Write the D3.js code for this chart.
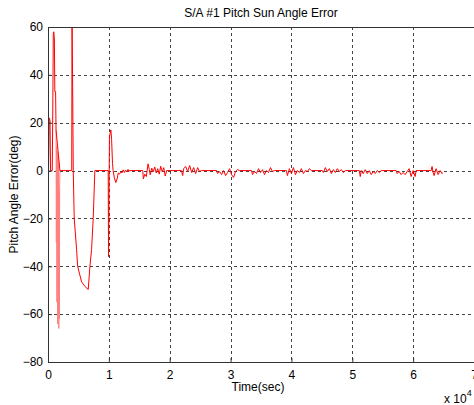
<!DOCTYPE html>
<html>
<head>
<meta charset="utf-8">
<script src="https://cdnjs.cloudflare.com/ajax/libs/d3/7.8.5/d3.min.js"></script>
<style>
  body { margin: 0; background: #fff; }
  svg { display: block; font-family: "Liberation Sans", Arial, sans-serif; }
</style>
</head>
<body>
<svg class="chart"></svg>
<script>
// time in seconds, pitch error in degrees
var timeSec = [
  0, 80, 200, 330, 420, 700, 800, 870, 950, 1050, 1120, 1250, 1320, 1960,
  3900, 3950, 4050, 4150, 4310, 4700, 4870, 5520, 6100, 6610, 6890, 7160, 7430, 7700,
  9890, 9950, 10100, 10330, 10450, 10600, 10700, 10900, 11150, 11350, 11550, 11750, 11950, 12150, 12350, 12550, 12750, 12950, 13150, 13300, 13440,
  15570, 15670, 15900, 16150, 16440, 16640, 16800, 17050, 17300, 17540, 17790, 18030, 18280, 18520, 18770, 19020, 19260, 19510,
  21920, 22130, 22300, 22620, 22950, 23280, 23610, 23930, 24260, 24590, 24920, 25200,
  27700, 27870, 28200, 28520, 28850, 29180, 29510, 29840, 30160, 30490, 30820, 31150, 31480,
  33440, 33610, 33930, 34260, 34590, 34920, 35250, 35570, 35900, 36230, 36560, 36890, 37210,
  39180, 39340, 39670, 40000, 40330, 40660, 40980, 41310, 41640, 41970, 42300, 42620, 42950, 43280,
  45080, 45250, 45570, 45900, 46230, 46560, 46890, 47210, 47540, 47870, 48200, 48520, 48850,
  51150, 51310, 51480, 51800, 52130, 52460, 52790, 53110, 53440, 53770, 54100, 54430, 54750,
  57210, 57380, 57700, 58030, 58360, 58690, 59020, 59340, 59670, 60000, 60330, 60490,
  62950, 63110, 63280, 63440, 63770, 64100, 64430, 64750, 64800
];
var pitchErr = [
  -32, 0, 22, 21, 0, 0, 30, 57, 58, 55, 33, 33, 17, 0,
  0, 64, 35, 0, -20, -33, -40, -46.5, -48.5, -49.7, -40, -33, -20, 0,
  0, -36, 14, 17, 13, 3, 0, -3, -5, -3.5, -1, -1.5, -0.5, -1, 0.3, -0.8, 0.2, -0.5, 0.5, -0.3, 0,
  0, -3.5, -1.5, -2.5, 2.8, 0.5, -1.8, 1, -0.5, 1.5, -1, 0.8, -1.5, 1.8, -0.5, 1.2, -2.3, 0,
  0, -2.1, 0.8, 1.7, -0.4, 2.1, -0.8, 1.25, -1.25, 1.25, -0.4, 0,
  0, -1.25, -0.4, -1.7, 0, -2.1, -0.8, 0.8, -1.7, -2.9, -0.4, 0.4, 0,
  0, -1.7, -0.4, -1.25, 0.8, -0.8, 0.4, -1.7, 0, -0.8, 1.25, -0.4, 0,
  0, -2.1, 0.8, -1.25, 1.25, -1.7, 0, -0.8, 0.8, -1.25, 0, -0.4, 0.8, 0,
  0, -0.8, 1.25, -0.4, 0.8, -1.25, 0.4, -0.8, 0.8, -0.4, 0.4, -0.8, 0,
  0, -2.5, 0, -1.25, 0.4, -1.25, 0, -1.7, -0.4, -1.25, 0, -0.8, 0,
  0, -1.25, -0.4, -1.7, -0.8, -1.7, -0.4, 0.8, -2.5, 0, -2.5, 0,
  0, 1.7, -0.8, -2.1, 0.8, -1.7, 0, -1.25, -0.8
];
// dense oscillation right after start (drawn lighter)
var burstTime = [1320, 1370, 1420, 1470, 1520, 1570, 1620, 1670, 1720, 1770, 1820, 1870, 1920, 1960];
var burstErr  = [17, -30, 10, -55, 8, -64, 0, -60, 6, -66, -8, -62, -5, 0];

var xTicks = [0, 10000, 20000, 30000, 40000, 50000, 60000, 70000];
var yTicks = [-80, -60, -40, -20, 0, 20, 40, 60];

var width = 474, height = 405;
var margin = {top: 27, right: 0, bottom: 43, left: 48};
var plotW = width - margin.left - margin.right;
var plotH = height - margin.top - margin.bottom;

var x = d3.scaleLinear().domain([0, 70000]).range([0, plotW]);
var y = d3.scaleLinear().domain([-80, 60]).range([plotH, 0]);

var svg = d3.select('.chart').attr("width", width).attr("height", height);
var chart = svg.append("g").attr("transform", "translate(" + margin.left + "," + margin.top + ")");

chart.append("clipPath").attr("id", "clip")
  .append("rect").attr("width", plotW).attr("height", plotH);

// grid
chart.append("g").selectAll("line").data(xTicks.slice(1, -1)).enter().append("line")
  .attr("x1", function(d) { return Math.round(x(d)) + 0.5; })
  .attr("x2", function(d) { return Math.round(x(d)) + 0.5; })
  .attr("y1", 0).attr("y2", plotH)
  .attr("stroke", "#444").attr("stroke-dasharray", "3,3");
chart.append("g").selectAll("line").data(yTicks.slice(1, -1)).enter().append("line")
  .attr("y1", function(d) { return Math.round(y(d)) + 0.5; })
  .attr("y2", function(d) { return Math.round(y(d)) + 0.5; })
  .attr("x1", 0).attr("x2", plotW)
  .attr("stroke", "#444").attr("stroke-dasharray", "3,3");

// data
var line = d3.line().x(function(d) { return x(d[0]); }).y(function(d) { return y(d[1]); });
var mainData = timeSec.map(function(t, i) { return [t, pitchErr[i]]; });
var burstData = burstTime.map(function(t, i) { return [t, burstErr[i]]; });

chart.append("path").datum(burstData)
  .attr("clip-path", "url(#clip)")
  .attr("fill", "none").attr("stroke", "#ff8080").attr("stroke-width", 1)
  .attr("d", line);
chart.append("path").datum(mainData)
  .attr("clip-path", "url(#clip)")
  .attr("fill", "none").attr("stroke", "#ff0000").attr("stroke-width", 1)
  .attr("d", line);

// axes
var xAxis = chart.append("g")
  .attr("transform", "translate(0," + plotH + ")")
  .call(d3.axisBottom(x).tickValues(xTicks).tickSizeInner(-4).tickSizeOuter(0).tickPadding(8)
    .tickFormat(function(d) { return d / 10000; }));
var yAxis = chart.append("g")
  .call(d3.axisLeft(y).tickValues(yTicks).tickSizeInner(-4).tickSizeOuter(0).tickPadding(5));

[xAxis, yAxis].forEach(function(a) {
  a.select(".domain").attr("stroke", "#333");
  a.selectAll(".tick line").attr("stroke", "#333");
  a.selectAll("text").attr("fill", "#000").style("font-size", "12px")
    .style("font-family", "'Liberation Sans', Arial, sans-serif");
});

// top border
chart.append("line").attr("x1", 0).attr("x2", plotW).attr("y1", 0.5).attr("y2", 0.5).attr("stroke", "#333");

// title and labels
svg.append("text")
  .attr("x", margin.left + plotW / 2).attr("y", 17)
  .style("text-anchor", "middle").style("font-size", "12px")
  .text("S/A #1 Pitch Sun Angle Error");

svg.append("text")
  .attr("transform", "rotate(-90)")
  .attr("x", -(margin.top + plotH / 2)).attr("y", 18)
  .style("text-anchor", "middle").style("font-size", "12px")
  .text("Pitch Angle Error(deg)");

svg.append("text")
  .attr("x", 258).attr("y", 391)
  .style("text-anchor", "middle").style("font-size", "12px")
  .text("Time(sec)");

var mult = svg.append("text").attr("x", 444).attr("y", 403).style("font-size", "12px");
mult.append("tspan").text("x 10");
mult.append("tspan").attr("dy", -7).style("font-size", "9px").text("4");
</script>
</body>
</html>
